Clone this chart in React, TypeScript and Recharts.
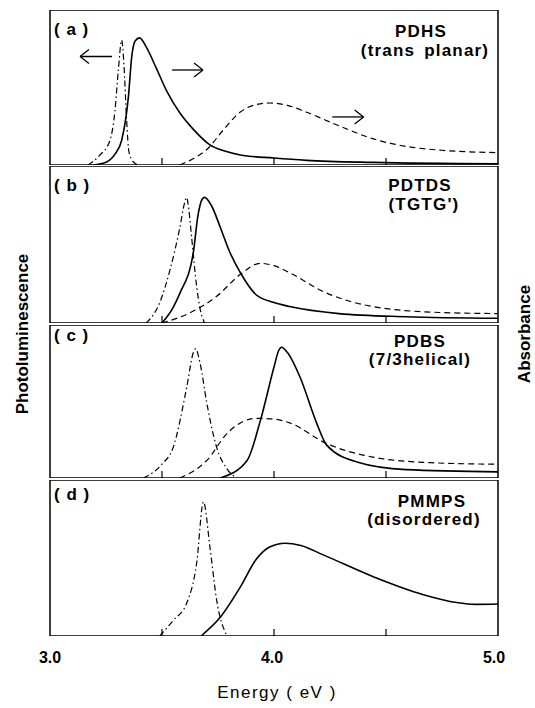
import React from "react";
import { LineChart, Line, XAxis, YAxis, ReferenceArea, ReferenceLine } from "recharts";

type Pt = [number, number];

// Energy ticks (eV)
const tickEnergies = [3.5, 4.0, 4.5];
const tickLabels = ["3.0", "4.0", "5.0"];

// Panel (a) PDHS
const aPL: Pt[] = [[3.17, 0], [3.22, 0.06], [3.268, 0.16], [3.29, 0.35], [3.305, 0.61], [3.32, 0.806], [3.33, 0.65], [3.342, 0.29], [3.353, 0.08], [3.38, 0.01], [3.4, 0]];
const aAbs: Pt[] = [[3.19, 0], [3.253, 0.02], [3.29, 0.07], [3.32, 0.16], [3.35, 0.44], [3.365, 0.7], [3.38, 0.8], [3.4, 0.82], [3.43, 0.76], [3.476, 0.62], [3.52, 0.48], [3.58, 0.335], [3.64, 0.23], [3.714, 0.13], [3.78, 0.09], [3.85, 0.065], [4.0, 0.045], [4.146, 0.03], [4.44, 0.017], [5.0, 0.008]];
const aDash: Pt[] = [[3.58, 0], [3.65, 0.05], [3.7, 0.1], [3.773, 0.225], [3.848, 0.34], [3.92, 0.39], [3.98, 0.4], [4.06, 0.385], [4.146, 0.34], [4.295, 0.25], [4.44, 0.17], [4.59, 0.12], [4.75, 0.095], [5.0, 0.08]];

// Panel (b) PDTDS
const bPL: Pt[] = [[3.43, 0], [3.49, 0.13], [3.536, 0.34], [3.58, 0.61], [3.6, 0.76], [3.61, 0.8], [3.62, 0.72], [3.632, 0.55], [3.655, 0.23], [3.67, 0.09], [3.69, 0]];
const bAbs: Pt[] = [[3.5, 0], [3.55, 0.1], [3.58, 0.19], [3.64, 0.45], [3.66, 0.68], [3.68, 0.79], [3.69, 0.8], [3.72, 0.75], [3.76, 0.61], [3.8, 0.46], [3.85, 0.32], [3.92, 0.18], [4.0, 0.13], [4.07, 0.105], [4.29, 0.06], [4.59, 0.04], [5.0, 0.03]];
const bDash: Pt[] = [[3.5, 0], [3.625, 0.065], [3.744, 0.17], [3.85, 0.31], [3.94, 0.38], [4.0, 0.365], [4.07, 0.32], [4.22, 0.2], [4.44, 0.105], [4.74, 0.067], [5.0, 0.06]];

// Panel (c) PDBS
const cPL: Pt[] = [[3.417, 0], [3.5, 0.09], [3.55, 0.2], [3.61, 0.59], [3.64, 0.82], [3.65, 0.845], [3.67, 0.75], [3.7, 0.49], [3.744, 0.2], [3.79, 0.06], [3.833, 0]];
const cAbs: Pt[] = [[3.76, 0], [3.88, 0.115], [3.94, 0.38], [4.0, 0.725], [4.02, 0.83], [4.034, 0.855], [4.06, 0.82], [4.116, 0.66], [4.19, 0.36], [4.235, 0.215], [4.37, 0.105], [4.59, 0.055], [5.0, 0.04]];
const cDash: Pt[] = [[3.58, 0], [3.7, 0.115], [3.79, 0.29], [3.85, 0.36], [3.92, 0.39], [4.0, 0.385], [4.07, 0.36], [4.235, 0.225], [4.44, 0.137], [4.7, 0.1], [5.0, 0.09]];

// Panel (d) PMMPS
const dPL: Pt[] = [[3.49, 0], [3.55, 0.1], [3.61, 0.21], [3.655, 0.47], [3.685, 0.86], [3.714, 0.57], [3.744, 0.23], [3.79, 0]];
const dAbs: Pt[] = [[3.674, 0], [3.76, 0.12], [3.85, 0.315], [3.92, 0.49], [3.98, 0.57], [4.05, 0.595], [4.12, 0.58], [4.22, 0.52], [4.443, 0.38], [4.667, 0.265], [4.815, 0.215], [4.9, 0.203], [5.0, 0.205]];

// Arrows in panel (a): [fromE, toE, y]
const arrowsA: [number, number, number][] = [[3.277, 3.134, 0.7], [3.545, 3.683, 0.613], [4.26, 4.4, 0.31]];

const panels = [
  { key: "a", label: "( a )", name: "PDHS", sub: "(trans planar)", pl: aPL, abs: aAbs, dash: aDash, top: 10, h: 155, ly: 35, ny: 37, sy: 56, nx: 421, sx: 425 },
  { key: "b", label: "( b )", name: "PDTDS", sub: "(TGTG')", pl: bPL, abs: bAbs, dash: bDash, top: 166, h: 157, ly: 191, ny: 191, sy: 210, nx: 420, sx: 424 },
  { key: "c", label: "( c )", name: "PDBS", sub: "(7/3helical)", pl: cPL, abs: cAbs, dash: cDash, top: 325, h: 153, ly: 341, ny: 347, sy: 365, nx: 420, sx: 420 },
  { key: "d", label: "( d )", name: "PMMPS", sub: "(disordered)", pl: dPL, abs: dAbs, dash: null as Pt[] | null, top: 480, h: 156, ly: 500, ny: 507, sy: 525, nx: 432, sx: 424 },
];

const toObj = (pts: Pt[]) => pts.map(([e, y]) => ({ e, y }));

const FONT = "'Liberation Sans', Arial, Helvetica, sans-serif";
const LEFT = 50;
const RIGHT = 498;
const W = 535;

function arrowLines(list: [number, number, number][]) {
  const out: React.ReactElement[] = [];
  list.forEach(([x0, x1, y], i) => {
    const dir = x1 > x0 ? 1 : -1;
    const hx = x1 - dir * 0.04;
    out.push(<ReferenceLine key={`s${i}`} segment={[{ x: x0, y }, { x: x1, y }]} stroke="#000" strokeWidth={1.3} />);
    out.push(<ReferenceLine key={`h1${i}`} segment={[{ x: hx, y: y + 0.045 }, { x: x1, y }]} stroke="#000" strokeWidth={1.3} />);
    out.push(<ReferenceLine key={`h2${i}`} segment={[{ x: hx, y: y - 0.045 }, { x: x1, y }]} stroke="#000" strokeWidth={1.3} />);
  });
  return out;
}

function tickLines() {
  return tickEnergies.map((t) => (
    <ReferenceLine key={`t${t}`} segment={[{ x: t, y: 0 }, { x: t, y: 0.045 }]} stroke="#000" strokeWidth={1.2} />
  ));
}

export default function App() {
  return (
    <div style={{ position: "absolute", left: 0, top: 0, width: W, height: 708, background: "#fff" }}>
      {panels.map((p) => (
        <div key={p.key} style={{ position: "absolute", left: 0, top: p.top }}>
          <LineChart width={W} height={p.h} margin={{ top: 0, right: W - RIGHT, bottom: 0, left: LEFT }}>
            <XAxis dataKey="e" type="number" domain={[3, 5]} hide allowDataOverflow />
            <YAxis type="number" domain={[0, 1]} hide allowDataOverflow />
            <ReferenceArea x1={3} x2={5} y1={0} y2={1} fill="none" stroke="#000" strokeWidth={1.5} />
            {tickLines()}
            <Line data={toObj(p.pl)} dataKey="y" type="monotone" stroke="#000" strokeWidth={1.2} strokeDasharray="6 3 1.5 3" dot={false} isAnimationActive={false} />
            {p.dash && (
              <Line data={toObj(p.dash)} dataKey="y" type="monotone" stroke="#000" strokeWidth={1.2} strokeDasharray="6 4" dot={false} isAnimationActive={false} />
            )}
            <Line data={toObj(p.abs)} dataKey="y" type="monotone" stroke="#000" strokeWidth={1.6} dot={false} isAnimationActive={false} />
            {p.key === "a" ? arrowLines(arrowsA) : null}
          </LineChart>
        </div>
      ))}
      <svg width={W} height={708} style={{ position: "absolute", left: 0, top: 0, pointerEvents: "none" }}>
        <g fontFamily={FONT} fontWeight="bold" fill="#000">
          {panels.map((p) => (
            <g key={p.key}>
              <text x={54} y={p.ly} fontSize={17} letterSpacing={1}>{p.label}</text>
              <text x={p.nx} y={p.ny} fontSize={17} textAnchor="middle" letterSpacing={1.2}>{p.name}</text>
              <text x={p.sx} y={p.sy} fontSize={17} textAnchor="middle" letterSpacing={1.2} wordSpacing={3}>{p.sub}</text>
            </g>
          ))}
          {tickLabels.map((l, i) => (
            <text key={l} x={LEFT + ((RIGHT - LEFT) / 2) * i - (i === 2 ? 4 : i === 1 ? 2 : 0)} y={663} fontSize={16} textAnchor="middle">{l}</text>
          ))}
          <text x={22} y={334} fontSize={17} textAnchor="middle" dominantBaseline="central" transform="rotate(-90 22 334)">Photoluminescence</text>
          <text x={524} y={334} fontSize={17} textAnchor="middle" dominantBaseline="central" transform="rotate(-90 524 334)">Absorbance</text>
        </g>
        <text x={277} y={698} fontFamily={FONT} fontSize={17} textAnchor="middle" letterSpacing={1.5} fill="#000">Energy ( eV )</text>
      </svg>
    </div>
  );
}
